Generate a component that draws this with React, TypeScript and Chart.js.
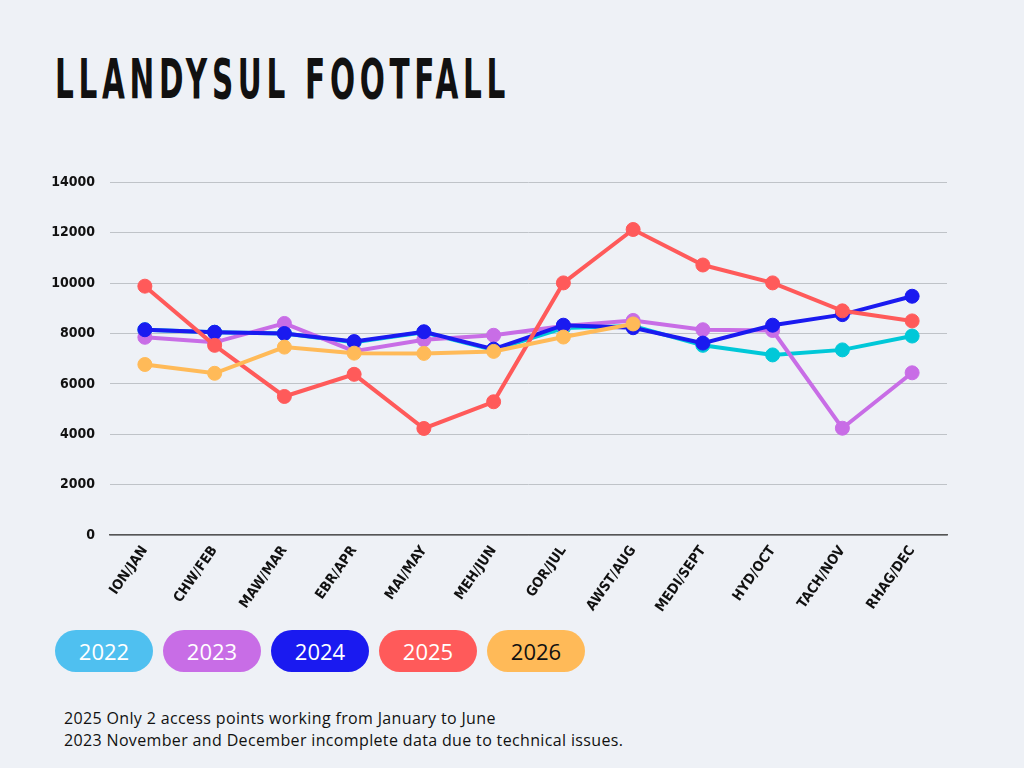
import { Chart, registerables } from "chart.js";
import { useEffect, useLayoutEffect, useRef } from "react";

Chart.register(...registerables);

const months = [
  "ION/JAN", "CHW/FEB", "MAW/MAR", "EBR/APR", "MAI/MAY", "MEH/JUN",
  "GOR/JUL", "AWST/AUG", "MEDI/SEPT", "HYD/OCT", "TACH/NOV", "RHAG/DEC",
];

const years = ["2022", "2023", "2024", "2025", "2026"];

const footfall2022 = [8150, 8050, 8000, 7650, 8050, 7350, 8220, 8300, 7530, 7150, 7350, 7900];
const footfall2023 = [7850, 7650, 8400, 7300, 7750, 7930, 8300, 8520, 8150, 8120, 4240, 6440];
const footfall2024 = [8150, 8050, 8000, 7680, 8070, 7380, 8330, 8230, 7620, 8330, 8750, 9480];
const footfall2025 = [9880, 7530, 5500, 6380, 4230, 5290, 10010, 12130, 10720, 10010, 8900, 8500];
const footfall2026 = [6770, 6420, 7460, 7220, 7210, 7290, 7860, 8380, null, null, null, null];

const yTicks = [0, 2000, 4000, 6000, 8000, 10000, 12000, 14000];

const lineColours = ["#00C8D8", "#C86DE6", "#1A1AF0", "#FF5A5A", "#FFBA58"];
const pillColours = ["#4FC0F0", "#C86DE6", "#1A1AF0", "#FF5A5A", "#FFBA58"];
const pillText = ["#fff", "#fff", "#fff", "#fff", "#111"];

const narrow = "'DejaVu Sans Condensed', 'Liberation Sans Narrow', sans-serif";

export default function App() {
  const chartRef = useRef<HTMLCanvasElement | null>(null);
  const titleRef = useRef<HTMLSpanElement | null>(null);

  // squeeze the title into the width it has in the poster
  useLayoutEffect(() => {
    const el = titleRef.current;
    if (!el) return;
    const w = el.offsetWidth;
    if (w > 0) el.style.transform = `scaleX(${455 / w})`;
  }, []);

  useEffect(() => {
    if (!chartRef.current) return;
    const series = [footfall2022, footfall2023, footfall2024, footfall2025, footfall2026];
    const chart = new Chart(chartRef.current, {
      type: "line",
      data: {
        labels: months,
        datasets: series.map((vals, i) => ({
          label: years[i],
          data: vals,
          borderColor: lineColours[i],
          backgroundColor: lineColours[i],
          pointBackgroundColor: lineColours[i],
          pointBorderColor: lineColours[i],
          borderWidth: 4,
          pointRadius: 7,
          pointBorderWidth: 1,
          tension: 0,
          order: series.length - i,
        })),
      },
      options: {
        animation: false,
        responsive: false,
        maintainAspectRatio: false,
        layout: { padding: { top: 10, left: 0, right: 0, bottom: 0 } },
        plugins: { legend: { display: false }, tooltip: { enabled: false } },
        scales: {
          x: {
            offset: true,
            grid: { display: false, drawTicks: false },
            border: { display: true, color: "#555", width: 1.5 },
            ticks: {
              color: "#111",
              font: { family: narrow, size: 14, weight: "bold" },
              minRotation: 55,
              maxRotation: 55,
              padding: 8,
              autoSkip: false,
            },
            afterFit: (scale: any) => {
              scale.height = 95;
            },
          },
          y: {
            min: 0,
            max: 14000,
            afterBuildTicks: (scale: any) => {
              scale.ticks = yTicks.map((v) => ({ value: v }));
            },
            grid: { color: "#BFC3C8", lineWidth: 1, drawTicks: false },
            border: { display: false },
            ticks: {
              color: "#111",
              font: { family: narrow, size: 14, weight: "bold" },
              padding: 15,
              callback: (v: any) => String(v),
            },
            afterFit: (scale: any) => {
              scale.width = 70;
            },
          },
        },
      },
    });
    return () => {
      chart.destroy();
    };
  }, []);

  return (
    <div
      style={{
        position: "fixed",
        left: 0,
        top: 0,
        width: 1024,
        height: 768,
        background: "#EEF1F6",
        overflow: "hidden",
      }}
    >
      <div
        style={{
          position: "absolute",
          left: 55,
          top: 51,
          lineHeight: 1,
          whiteSpace: "nowrap",
        }}
      >
        <span
          ref={titleRef}
          style={{
            display: "inline-block",
            transformOrigin: "left top",
            fontFamily: narrow,
            fontWeight: "bold",
            fontSize: 56,
            letterSpacing: 8,
            color: "#111",
          }}
        >
          LLANDYSUL FOOTFALL
        </span>
      </div>
      <canvas
        ref={chartRef}
        width={915}
        height={471}
        style={{ position: "absolute", left: 40, top: 159, width: 915, height: 471 }}
      />
      <div style={{ position: "absolute", left: 55, top: 630, display: "flex", gap: 10 }}>
        {years.map((y, i) => (
          <div
            key={y}
            style={{
              width: 98,
              height: 42,
              borderRadius: 21,
              background: pillColours[i],
              color: pillText[i],
              fontFamily: "'Open Sans', sans-serif",
              fontSize: 22,
              display: "flex",
              alignItems: "center",
              justifyContent: "center",
            }}
          >
            {y}
          </div>
        ))}
      </div>
      <div
        style={{
          position: "absolute",
          left: 64,
          top: 707,
          fontFamily: "'Open Sans', sans-serif",
          fontSize: 16,
          letterSpacing: 0.35,
          lineHeight: "22px",
          color: "#111",
        }}
      >
        <div>2025 Only 2 access points working from January to June</div>
        <div>2023 November and December incomplete data due to technical issues.</div>
      </div>
    </div>
  );
}
